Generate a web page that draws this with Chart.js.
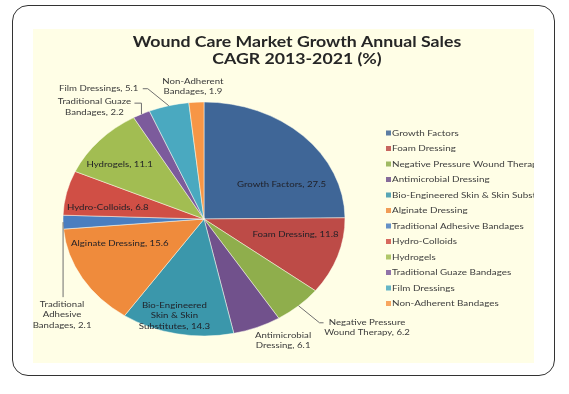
<!DOCTYPE html>
<html><head><meta charset="utf-8">
<script src="https://cdn.jsdelivr.net/npm/chart.js@4.4.0/dist/chart.umd.min.js"></script>
<style>
html,body{margin:0;padding:0;background:#fff;width:569px;height:394px;overflow:hidden}
#frame{position:absolute;left:12px;top:5px;width:541px;height:369px;border:1.5px solid #333;border-radius:16px}
#panel{position:absolute;left:33px;top:29px;width:501px;height:334px;background:#fffee6}
#wrap{position:absolute;left:0;top:0;width:569px;height:394px}
</style></head><body>
<div id="frame"></div><div id="panel"></div>
<div id="wrap"><canvas id="c" width="569" height="394"></canvas></div>
<script>
// ---- data ----
const categories = ["Growth Factors","Foam Dressing","Negative Pressure Wound Therapy","Antimicrobial Dressing","Bio-Engineered Skin & Skin Substitutes","Alginate Dressing","Traditional Adhesive Bandages","Hydro-Colloids","Hydrogels","Traditional Guaze Bandages","Film Dressings","Non-Adherent Bandages"];
const values = [27.5,11.8,6.2,6.1,14.3,15.6,2.1,6.8,11.1,2.2,5.1,1.9];
const labelNameLines = [["Growth Factors"],["Foam Dressing"],["Negative Pressure","Wound Therapy"],["Antimicrobial","Dressing"],["Bio-Engineered","Skin & Skin","Substitutes"],["Alginate Dressing"],["Traditional","Adhesive","Bandages"],["Hydro-Colloids"],["Hydrogels"],["Traditional Guaze","Bandages"],["Film Dressings"],["Non-Adherent","Bandages"]];
const titleLines = ["Wound Care Market Growth Annual Sales","CAGR 2013-2021 (%)"];

// ---- style ----
const sliceColors = ["#3f6697","#bd4b47","#8fae4c","#71518c","#3b97ab","#ef8b3c","#4a7ec0","#d04f45","#a2bd52","#7c5b9c","#4aa9c0","#f79646"];
const SX = 1.205; // horizontal stretch of the original picture
const FONT = "Lato, 'Open Sans', sans-serif";
// inside labels: radial fraction f + nudge; outside: offset from edge point + leader
const placement = [
  {f:0.6, dx:18, dy:15},
  {f:0.7, dx:-2, dy:-11},
  {out:true, ox:68.5, oy:21.7, leader:[[21,17],[25,17]]},
  {out:true, ox:26, oy:13},
  {f:0.8, dx:-8, dy:5},
  {f:0.7, dx:1, dy:-17},
  {out:true, ox:-1, oy:92.5, leader:[[0,75]]},
  {f:0.7, dx:0, dy:7},
  {f:0.7, dx:-11, dy:0},
  {out:true, ox:-47, oy:-7, leader:[[0,-11],[-7,-11]]},
  {out:true, ox:-70, oy:-17.7, leader:[[-21,-17],[-26,-17]]},
  {out:true, ox:-3.5, oy:-15.7}
];

function sText(ctx, t, x, y, align){
  ctx.save(); ctx.translate(x, y); ctx.scale(SX, 1);
  ctx.textAlign = align || 'center'; ctx.textBaseline = 'middle';
  ctx.fillText(t, 0, 0); ctx.restore();
}

const stretch = {
  id:'stretch',
  beforeDatasetsDraw(chart){
    const a = chart.getDatasetMeta(0).data[0]; const ctx = chart.ctx;
    ctx.save(); ctx.translate(a.x, a.y); ctx.scale(SX, 1); ctx.translate(-a.x, -a.y);
  },
  afterDatasetsDraw(chart){ chart.ctx.restore(); }
};

const decor = {
  id:'decor',
  afterDraw(chart){
    const ctx = chart.ctx;
    // title
    ctx.fillStyle = '#262626';
    ctx.font = "bold 14.7px " + FONT;
    sText(ctx, titleLines[0], 297, 42);
    sText(ctx, titleLines[1], 297, 59);
    // labels
    const arcs = chart.getDatasetMeta(0).data;
    ctx.font = "8px " + FONT;
    arcs.forEach((a, i) => {
      const p = a.getProps(['x','y','startAngle','endAngle','outerRadius'], true);
      const mid = (p.startAngle + p.endAngle) / 2;
      const c = Math.cos(mid), s = Math.sin(mid);
      const pl = placement[i];
      const lines = labelNameLines[i].slice();
      lines[lines.length-1] = lines[lines.length-1] + ", " + values[i];
      let lx, ly;
      if (pl.out){
        const ex = p.x + p.outerRadius * SX * c, ey = p.y + p.outerRadius * s;
        if (pl.leader){
          ctx.save(); ctx.strokeStyle = '#6f6f6f'; ctx.lineWidth = 1;
          ctx.beginPath(); ctx.moveTo(ex, ey);
          pl.leader.forEach(q => ctx.lineTo(ex + q[0], ey + q[1]));
          ctx.stroke(); ctx.restore();
        }
        lx = ex + pl.ox; ly = ey + pl.oy;
        ctx.fillStyle = '#3a3a3a';
      } else {
        lx = p.x + pl.f * p.outerRadius * SX * c + pl.dx;
        ly = p.y + pl.f * p.outerRadius * s + pl.dy;
        ctx.fillStyle = '#1f1f26';
      }
      const lh = 10.7;
      const y0 = ly - (lines.length - 1) * lh / 2;
      lines.forEach((t, k) => sText(ctx, t, lx, y0 + k * lh));
    });
    // legend (clipped to the panel)
    ctx.save();
    ctx.beginPath(); ctx.rect(33, 29, 501, 334); ctx.clip();
    ctx.font = "8.2px " + FONT;
    categories.forEach((name, i) => {
      const y = 133 + i * 15.5;
      ctx.globalAlpha = 0.85;
      ctx.fillStyle = sliceColors[i];
      ctx.fillRect(386, y - 2.5, 5, 5);
      ctx.globalAlpha = 1;
      ctx.fillStyle = '#404040';
      sText(ctx, name, 392, y, 'left');
    });
    ctx.restore();
  }
};

new Chart(document.getElementById('c'), {
  type: 'pie',
  data: {
    labels: categories,
    datasets: [{
      data: values,
      backgroundColor: sliceColors,
      borderColor: 'rgba(255,255,240,0.55)',
      borderWidth: 0.8,
      clip: false
    }]
  },
  options: {
    responsive: false,
    animation: false,
    events: [],
    radius: 117,
    layout: { padding: { left: 30, right: 191, top: 100, bottom: 56 } },
    plugins: { legend: { display: false }, tooltip: { enabled: false }, title: { display: false } }
  },
  plugins: [stretch, decor]
});
</script>
</body></html>
